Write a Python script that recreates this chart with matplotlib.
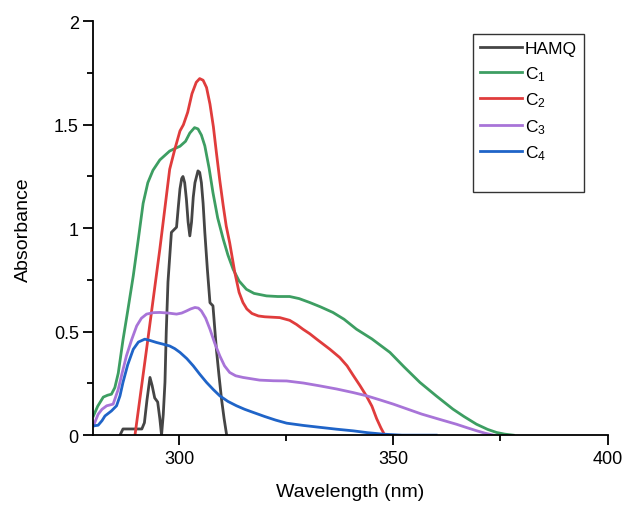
import matplotlib.pyplot as plt
import numpy as np

plt.rcParams['font.family'] = ['Liberation Sans', 'DejaVu Sans']
plt.rcParams['mathtext.fontset'] = 'custom'
plt.rcParams['mathtext.rm'] = 'Liberation Sans'

# UV-Vis absorption spectra (wavelength in nm, absorbance)
wl_hamq = [286.2, 286.9, 291.3, 291.9, 292.5, 293.2, 293.7, 294.3, 295.0, 295.5, 295.9,
           296.3, 296.7, 297.0, 297.4, 298.2, 299.4, 299.8, 300.2, 300.6, 300.9, 301.3,
           301.7, 302.1, 302.5, 302.9, 303.3, 303.7, 304.4, 304.8, 305.2, 305.6, 306.0,
           306.6, 307.2, 307.9, 308.3, 308.7, 309.3, 309.9, 310.5, 311.1]
abs_hamq = [0.0, 0.03, 0.03, 0.06, 0.17, 0.279, 0.24, 0.18, 0.16, 0.08, 0.0,
            0.1, 0.256, 0.5, 0.74, 0.98, 1.005, 1.1, 1.19, 1.24, 1.25, 1.22,
            1.14, 1.03, 0.963, 1.03, 1.15, 1.22, 1.277, 1.27, 1.22, 1.12, 0.98,
            0.80, 0.64, 0.625, 0.52, 0.415, 0.29, 0.174, 0.08, 0.0]

wl_c1 = [280.0, 281.0, 282.3, 283.3, 284.2, 285.0, 285.8, 286.9, 288.0, 289.3, 290.5,
         291.6, 292.7, 293.9, 295.5, 297.8, 299.0, 300.2, 301.5, 302.5, 303.6, 304.4,
         305.2, 306.0, 307.0, 307.9, 309.0, 310.3, 311.4, 312.6, 314.0, 315.7, 317.5,
         320.4, 323.0, 325.8, 328.0, 330.5, 333.0, 335.9, 338.5, 341.4, 345.0, 349.2,
         352.5, 356.2, 360.0, 363.9, 366.5, 369.4, 372.0, 374.1, 376.0, 378.0]
abs_c1 = [0.093, 0.14, 0.184, 0.193, 0.198, 0.23, 0.30, 0.46, 0.60, 0.77, 0.95,
          1.12, 1.22, 1.28, 1.33, 1.373, 1.385, 1.396, 1.42, 1.46, 1.486, 1.48,
          1.45, 1.398, 1.29, 1.172, 1.05, 0.947, 0.87, 0.802, 0.745, 0.705, 0.685,
          0.673, 0.670, 0.67, 0.66, 0.641, 0.62, 0.593, 0.56, 0.512, 0.465, 0.40,
          0.33, 0.255, 0.19, 0.126, 0.09, 0.053, 0.028, 0.013, 0.005, 0.0]

wl_c2 = [289.7, 292.4, 295.5, 297.8, 299.0, 300.2, 301.0, 302.0, 303.0, 304.0, 304.8,
         305.6, 306.4, 307.2, 308.0, 308.7, 309.5, 310.3, 311.0, 311.8, 313.0, 314.0,
         314.9, 315.8, 317.0, 318.5, 320.0, 323.5, 325.8, 327.4, 328.9, 330.5, 332.1,
         335.2, 337.5, 339.2, 340.6, 342.2, 343.7, 345.0, 346.1, 347.1, 348.0]
abs_c2 = [0.0, 0.415, 0.899, 1.285, 1.382, 1.47, 1.50, 1.56, 1.65, 1.705, 1.723,
          1.715, 1.68, 1.60, 1.49, 1.366, 1.23, 1.108, 1.01, 0.93, 0.786, 0.69,
          0.641, 0.61, 0.588, 0.576, 0.572, 0.568, 0.555, 0.535, 0.512, 0.49, 0.464,
          0.415, 0.375, 0.335, 0.29, 0.24, 0.19, 0.14, 0.08, 0.035, 0.0]

wl_c3 = [280.0, 281.1, 282.0, 283.1, 284.6, 285.8, 286.7, 287.7, 288.9, 290.1, 291.2,
         292.4, 294.0, 295.5, 297.5, 299.4, 300.6, 301.7, 302.7, 303.7, 304.5, 305.2,
         306.2, 307.2, 308.3, 309.5, 310.6, 311.8, 313.2, 314.9, 318.8, 322.0, 325.1,
         329.0, 332.9, 336.8, 340.6, 343.8, 346.8, 350.0, 353.3, 356.6, 360.7, 364.7,
         367.2, 369.5, 371.5, 373.4]
abs_c3 = [0.045, 0.101, 0.125, 0.142, 0.15, 0.222, 0.30, 0.383, 0.46, 0.528, 0.565,
          0.585, 0.592, 0.593, 0.59, 0.585, 0.59, 0.60, 0.61, 0.617, 0.614, 0.60,
          0.565, 0.512, 0.445, 0.383, 0.335, 0.303, 0.287, 0.279, 0.266, 0.263, 0.262,
          0.252, 0.238, 0.223, 0.206, 0.19, 0.171, 0.15, 0.126, 0.102, 0.077, 0.053,
          0.036, 0.021, 0.009, 0.0]

wl_c4 = [280.0, 281.1, 282.0, 282.7, 284.2, 285.4, 286.2, 286.9, 288.0, 289.3, 290.5,
         292.0, 293.3, 294.7, 296.2, 297.8, 299.0, 300.2, 301.8, 303.3, 304.8, 306.4,
         308.0, 309.5, 311.4, 313.4, 315.3, 317.3, 320.0, 322.5, 325.1, 329.0, 332.8,
         336.7, 340.6, 344.0, 347.6, 352.0, 360.0]
abs_c4 = [0.045, 0.048, 0.07, 0.093, 0.117, 0.142, 0.19, 0.255, 0.34, 0.415, 0.45,
          0.464, 0.457, 0.448, 0.44, 0.431, 0.418, 0.40, 0.37, 0.335, 0.295, 0.255,
          0.22, 0.19, 0.163, 0.142, 0.125, 0.11, 0.09, 0.073, 0.058, 0.047, 0.038,
          0.029, 0.021, 0.012, 0.005, 0.0, 0.0]

series = [
    (wl_hamq, abs_hamq, 'HAMQ', '#454545'),
    (wl_c1, abs_c1, r'C$\mathregular{_1}$', '#3d9e62'),
    (wl_c2, abs_c2, r'C$\mathregular{_2}$', '#e03c3c'),
    (wl_c3, abs_c3, r'C$\mathregular{_3}$', '#a874d8'),
    (wl_c4, abs_c4, r'C$\mathregular{_4}$', '#1f64c8'),
]

fig = plt.figure(figsize=(6.27, 5.06), dpi=100)
ax = fig.add_axes([0.149, 0.138, 0.82, 0.818])

for x, y, name, col in series:
    ax.plot(x, y, color=col, lw=2.0, label=name, solid_joinstyle='round')

ax.set_xlim(280, 400)
ax.set_ylim(0, 2)
ax.set_xticks([300, 350, 400])
ax.set_xticks([325, 375], minor=True)
ax.set_yticks([0, 0.5, 1, 1.5, 2])
ax.set_yticklabels(['0', '0.5', '1', '1.5', '2'])
ax.set_yticks([0.25, 0.75, 1.25, 1.75], minor=True)

for s in ['top', 'right']:
    ax.spines[s].set_visible(False)
for s in ['left', 'bottom']:
    ax.spines[s].set_linewidth(1.3)
ax.tick_params(which='major', direction='out', length=7, width=1.3, labelsize=13)
ax.tick_params(which='minor', direction='out', length=4, width=1.3)

ax.set_xlabel('Wavelength (nm)', fontsize=14, labelpad=12)
ax.set_ylabel('Absorbance', fontsize=14, labelpad=16)

# blank last row keeps some room at the bottom of the legend box
ax.plot([], [], color='none', label=' ')
leg = ax.legend(loc='upper left', bbox_to_anchor=(0.738, 0.969), borderaxespad=0,
                fontsize=12.5, frameon=True, fancybox=False, handlelength=2.45,
                handletextpad=0.15, labelspacing=0.45, borderpad=0.4)
leg.get_frame().set_edgecolor('black')
leg.get_frame().set_linewidth(1.0)

fig.savefig('out.png', dpi=100)
